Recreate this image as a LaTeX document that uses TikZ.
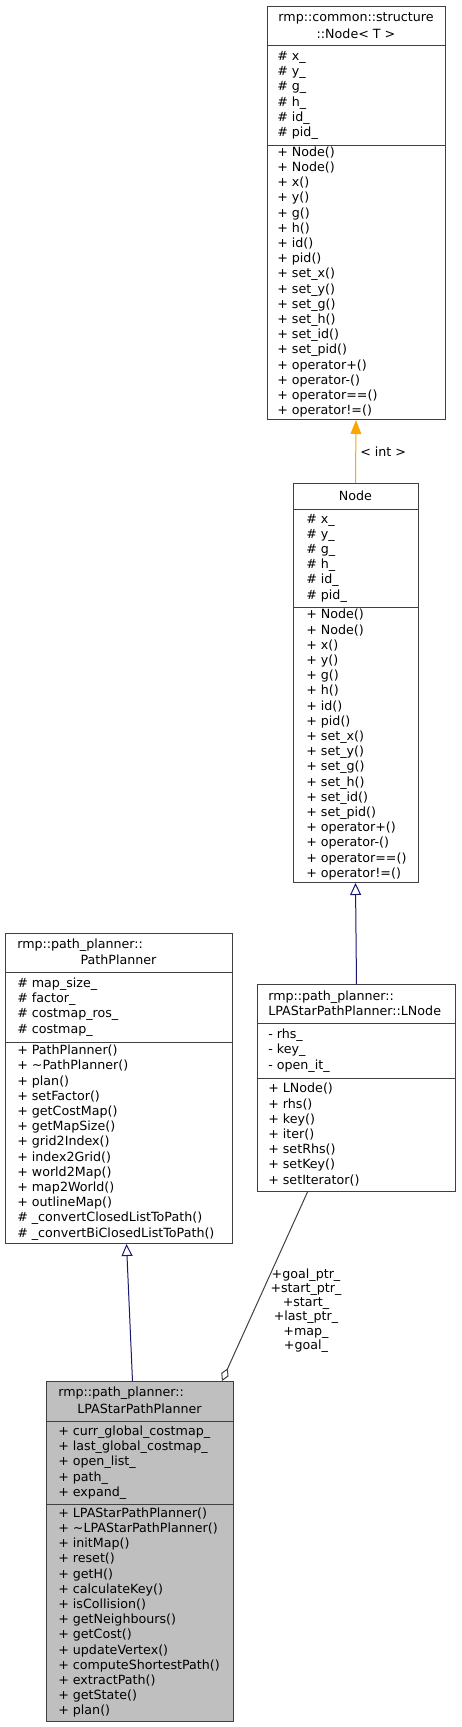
\documentclass[tikz,border=0pt]{standalone}
\usepackage{fontspec}
\setmainfont{DejaVu Sans}
\usetikzlibrary{arrows.meta}
\definecolor{boxc}{HTML}{404040}
\definecolor{mainfill}{HTML}{BFBFBF}
\definecolor{inhc}{HTML}{191970}
\definecolor{aggc}{HTML}{404040}
\definecolor{tmplc}{HTML}{FFA500}
\begin{document}
\begin{tikzpicture}[x=0.75pt,y=-0.75pt,
  box/.style={draw=boxc, line width=0.75pt, inner sep=0pt, anchor=north west},
  divider/.style={draw=boxc, line width=0.75pt},
  txt/.style={font=\fontsize{9.5}{11.4}\selectfont, inner sep=0pt, align=left, anchor=west},
  ctxt/.style={font=\fontsize{9.5}{11.4}\selectfont, inner sep=0pt, anchor=center},
  inh/.style={draw=inhc, line width=0.75pt, -{Triangle[open, length=9pt, width=8.25pt]}},
  tmpl/.style={draw=tmplc, line width=0.75pt, -{Triangle[length=10.5pt, width=8pt]}, tmplc},
  agg/.style={draw=aggc, line width=0.75pt, -{Diamond[open, length=10.5pt, width=6pt]}},
  lbl/.style={font=\fontsize{9.5}{10.65}\selectfont, inner sep=0pt, align=center, text=black}
]
\useasboundingbox (0,0) rectangle (461,1727);

% ---------- rmp::common::structure::Node< T >
\node[box, minimum width=133.5pt, minimum height=309.75pt] (T) at (267,6) {};
\draw[divider] (267,46) -- (445,46);
\draw[divider] (267,145) -- (445,145);
\node[ctxt] (Th1) at (356,18.5) {rmp::common::structure};
\node[ctxt] (Th2) at (356,33.5) {::Node< T >};
\node[txt] (Ta) at (277,95.5) {\# x\_\\\# y\_\\\# g\_\\\# h\_\\\# id\_\\\# pid\_};
\node[txt] (Tm) at (277,282) {+ Node()\\+ Node()\\+ x()\\+ y()\\+ g()\\+ h()\\+ id()\\+ pid()\\+ set\_x()\\+ set\_y()\\+ set\_g()\\+ set\_h()\\+ set\_id()\\+ set\_pid()\\+ operator+()\\+ operator-()\\+ operator==()\\+ operator!=()};

% ---------- Node
\node[box, minimum width=93.75pt, minimum height=299.25pt] (N) at (293,483) {};
\draw[divider] (293,509) -- (418,509);
\draw[divider] (293,607) -- (418,607);
\node[ctxt] (Nh) at (355.5,496) {Node};
\node[txt] (Na) at (306,558) {\# x\_\\\# y\_\\\# g\_\\\# h\_\\\# id\_\\\# pid\_};
\node[txt] (Nm) at (306,744.5) {+ Node()\\+ Node()\\+ x()\\+ y()\\+ g()\\+ h()\\+ id()\\+ pid()\\+ set\_x()\\+ set\_y()\\+ set\_g()\\+ set\_h()\\+ set\_id()\\+ set\_pid()\\+ operator+()\\+ operator-()\\+ operator==()\\+ operator!=()};

% ---------- PathPlanner
\node[box, minimum width=170.25pt, minimum height=232.5pt] (P) at (5,933) {};
\draw[divider] (5,972) -- (232,972);
\draw[divider] (5,1042) -- (232,1042);
\node[txt] (Ph1) at (17,945) {rmp::path\_planner::};
\node[ctxt] (Ph2) at (118.5,960) {PathPlanner};
\node[txt] (Pa) at (17,1007) {\# map\_size\_\\\# factor\_\\\# costmap\_ros\_\\\# costmap\_};
\node[txt] (Pm) at (17,1142.5) {+ PathPlanner()\\+ \textasciitilde PathPlanner()\\+ plan()\\+ setFactor()\\+ getCostMap()\\+ getMapSize()\\+ grid2Index()\\+ index2Grid()\\+ world2Map()\\+ map2World()\\+ outlineMap()\\\# \_convertClosedListToPath()\\\# \_convertBiClosedListToPath()};

% ---------- LNode
\node[box, minimum width=148.5pt, minimum height=155.25pt] (L) at (257,984) {};
\draw[divider] (257,1023) -- (455,1023);
\draw[divider] (257,1078) -- (455,1078);
\node[txt] (Lh) at (268,1003.5) {rmp::path\_planner::\\LPAStarPathPlanner::LNode};
\node[txt] (La) at (268,1050.5) {- rhs\_\\- key\_\\- open\_it\_};
\node[txt] (Lm) at (268,1134.5) {+ LNode()\\+ rhs()\\+ key()\\+ iter()\\+ setRhs()\\+ setKey()\\+ setIterator()};

% ---------- LPAStarPathPlanner
\node[box, fill=mainfill, minimum width=140.25pt, minimum height=255pt] (A) at (46,1381) {};
\draw[divider] (46,1421) -- (233,1421);
\draw[divider] (46,1504) -- (233,1504);
\node[txt] (Ah1) at (58,1393.5) {rmp::path\_planner::};
\node[ctxt] (Ah2) at (139.5,1408.5) {LPAStarPathPlanner};
\node[txt] (Aa) at (58,1462.5) {+ curr\_global\_costmap\_\\+ last\_global\_costmap\_\\+ open\_list\_\\+ path\_\\+ expand\_};
\node[txt] (Am) at (58,1612.5) {+ LPAStarPathPlanner()\\+ \textasciitilde LPAStarPathPlanner()\\+ initMap()\\+ reset()\\+ getH()\\+ calculateKey()\\+ isCollision()\\+ getNeighbours()\\+ getCost()\\+ updateVertex()\\+ computeShortestPath()\\+ extractPath()\\+ getState()\\+ plan()};

% ---------- connectors
\draw[tmpl] ([xshift=-0.375pt]N.north) -- ([xshift=-0.375pt]T.south)
  node[midway, anchor=west, xshift=3pt, inner sep=0pt, font=\fontsize{9.5}{11.4}\selectfont, text=black] (tlbl) {< int >};
\draw[inh] (L.north) -- ([xshift=-0.375pt]N.south);
\draw[inh] ([xshift=-5.625pt]A.north) -- ([xshift=5.625pt]P.south);
\draw[agg] ([xshift=-36.75pt]L.south) -- ([xshift=-9pt]A.north east);
\node[lbl] (agglbl) at (306,1310.5) {+goal\_ptr\_\\+start\_ptr\_\\+start\_\\+last\_ptr\_\\+map\_\\+goal\_};
\end{tikzpicture}
\end{document}
